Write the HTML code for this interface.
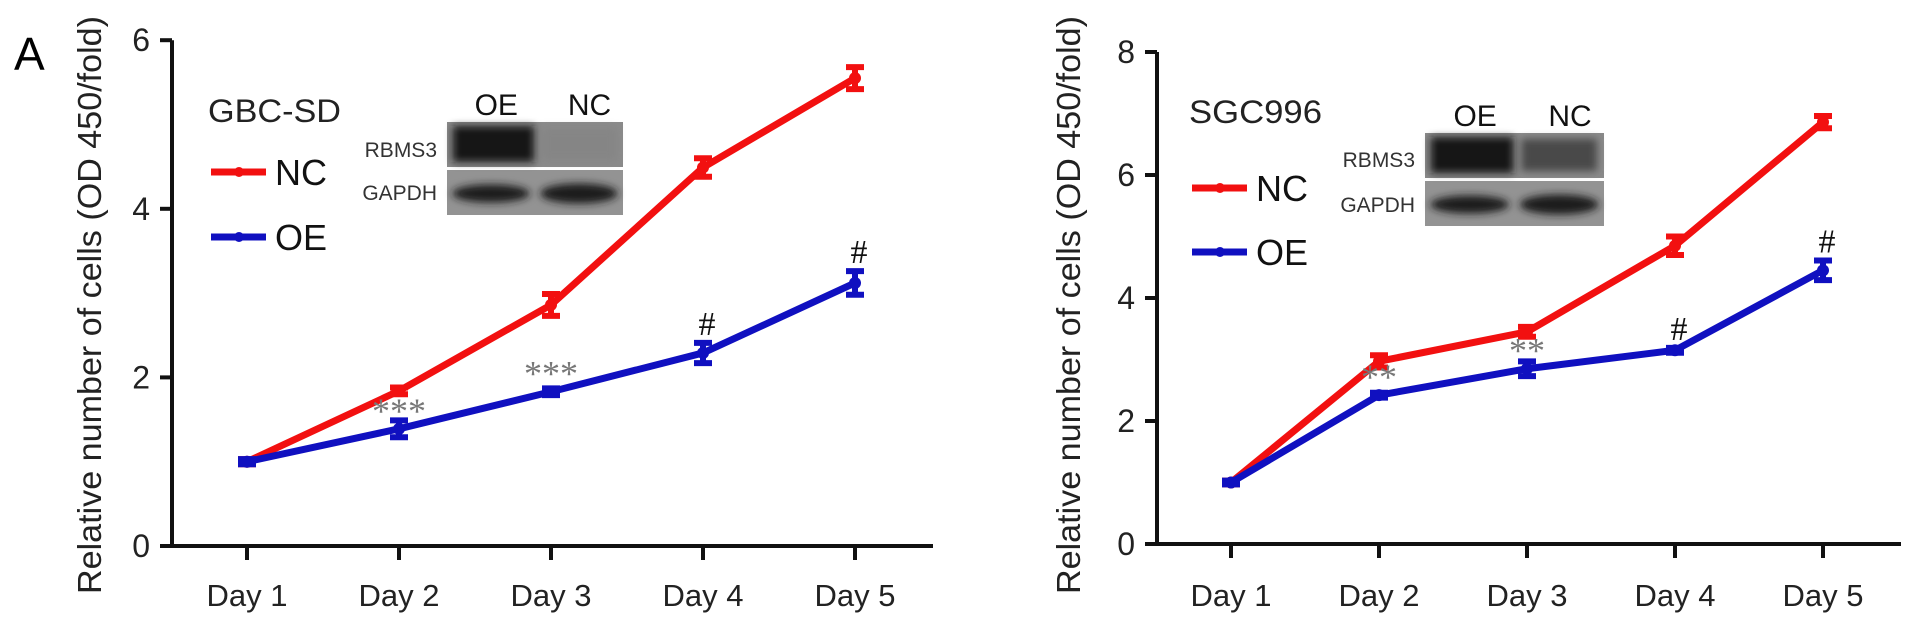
<!DOCTYPE html>
<html><head><meta charset="utf-8"><style>
html,body{margin:0;padding:0;background:#fff;width:1913px;height:626px;overflow:hidden}
svg{display:block;font-family:"Liberation Sans",Arial,sans-serif}
</style></head><body>
<svg id="fig" width="1913" height="626" viewBox="0 0 1913 626">
<defs><filter id="bl" x="-20%" y="-50%" width="140%" height="200%"><feGaussianBlur stdDeviation="4"/></filter></defs>
<text x="14" y="70" font-size="46">A</text>
</svg>
<script>
const days = ["Day 1","Day 2","Day 3","Day 4","Day 5"];
const leftNC = [1, 1.84, 2.86, 4.49, 5.55];
const leftNCerr = [0.03, 0.04, 0.13, 0.11, 0.13];
const leftOE = [1, 1.39, 1.83, 2.29, 3.12];
const leftOEerr = [0.03, 0.1, 0.04, 0.12, 0.14];
const leftTicks = [0, 2, 4, 6];
const leftMarks = ["", "***", "***", "#", "#"];
const rightNC = [1, 2.97, 3.45, 4.85, 6.86];
const rightNCerr = [0.03, 0.1, 0.08, 0.15, 0.1];
const rightOE = [1, 2.42, 2.85, 3.15, 4.45];
const rightOEerr = [0.03, 0.04, 0.12, 0.04, 0.16];
const rightTicks = [0, 2, 4, 6, 8];
const rightMarks = ["", "**", "**", "#", "#"];

const NS = "http://www.w3.org/2000/svg";
const svg = document.getElementById('fig');
function mk(tag, attrs, parent, txt){
  const e = document.createElementNS(NS, tag);
  for (const k in attrs) e.setAttribute(k, attrs[k]);
  if (txt !== undefined) e.textContent = txt;
  (parent || svg).appendChild(e);
  return e;
}

function panel(cfg){
  const g = mk('g', {});
  
  
  const xs = i => cfg.x0 + i * cfg.dx;
  const ys = v => cfg.y0 - v * cfg.py;
  const ya = mk('line', {x1: cfg.ax, y1: ys(cfg.ymax), x2: cfg.ax, y2: cfg.y0 + 2, stroke: '#111', 'stroke-width': 4}, g);
  
  
  const xa = mk('line', {x1: cfg.ax - 12, y1: cfg.y0, x2: cfg.xend, y2: cfg.y0, stroke: '#111', 'stroke-width': 4}, g);
  
  
  cfg.ticks.forEach(t => {
    const tl = mk('line', {x1: cfg.ax - 12, y1: ys(t), x2: cfg.ax, y2: ys(t), stroke: '#111', 'stroke-width': 4}, g);
    
    
    const tx = mk('text', {x: cfg.ax - 22, y: ys(t) + 11, 'font-size': 32, 'text-anchor': 'end', fill: '#222'}, g, String(t));
    
    
  });
  days.forEach((d, i) => {
    const tl = mk('line', {x1: xs(i), y1: cfg.y0, x2: xs(i), y2: cfg.y0 + 14, stroke: '#111', 'stroke-width': 4}, g);
    
    
    const tx = mk('text', {x: xs(i), y: 606, 'font-size': 31, 'text-anchor': 'middle', fill: '#222'}, g, d);
    
    
  });
  const yt = mk('text', {x: 0, y: 0, 'font-size': 33, 'text-anchor': 'middle', fill: '#222', transform: `translate(${cfg.ytx},305) rotate(-90)`, textLength: 578, lengthAdjust: 'spacingAndGlyphs'}, g, 'Relative number of cells (OD 450/fold)');
  
  
  [[cfg.nc, cfg.ncErr, '#f21010', 'nc-series'], [cfg.oe, cfg.oeErr, '#1010c0', 'oe-series']].forEach(s => {
    const pts = s[0].map((v, i) => xs(i) + ',' + ys(v)).join(' ');
    const pl = mk('polyline', {points: pts, fill: 'none', stroke: s[2], 'stroke-width': 7, 'stroke-linejoin': 'round'}, g);
    
    
    s[0].forEach((v, i) => {
      const e = s[1][i];
      const eb = mk('path', {d: `M${xs(i)},${ys(v + e)}V${ys(v - e)}M${xs(i) - 9},${ys(v + e)}H${xs(i) + 9}M${xs(i) - 9},${ys(v - e)}H${xs(i) + 9}`, stroke: s[2], 'stroke-width': 6, fill: 'none'}, g);
      
      
      const pt = mk('circle', {cx: xs(i), cy: ys(v), r: 6, fill: s[2]}, g);
      
      
    });
  });
  cfg.marks.forEach((m, i) => {
    if (!m) return;
    const isHash = m === '#';
    const y = isHash ? ys(cfg.oe[i] + cfg.oeErr[i]) - 8 : ys(cfg.oe[i]) - 6;
    const t = mk('text', {x: xs(i) + (isHash ? 4 : 0), y: y, 'font-size': isHash ? 34 : 36, 'text-anchor': 'middle', fill: isHash ? '#111' : '#777', 'font-family': '"Liberation Serif",serif'}, g, m);
    
    
  });
  const lt = mk('text', {x: cfg.lx - 3, y: cfg.ly, 'font-size': 32, fill: '#222', textLength: 133, lengthAdjust: 'spacingAndGlyphs'}, g, cfg.title);
  
  
  [['NC', '#f21010', cfg.l1], ['OE', '#1010c0', cfg.l2]].forEach(l => {
    const ln = mk('line', {x1: cfg.lx, y1: l[2], x2: cfg.lx + 55, y2: l[2], stroke: l[1], 'stroke-width': 7}, g);
    
    
    mk('circle', {cx: cfg.lx + 28, cy: l[2], r: 5, fill: l[1]}, g);
    const tx = mk('text', {x: cfg.lx + 64, y: l[2] + 13, 'font-size': 36, fill: '#111'}, g, l[0]);
    
    
  });
  const b = cfg.blot;
  const bg = mk('g', {}, g);
  
  
  mk('rect', {x: b.x, y: b.y, width: b.w, height: b.d - b.y - 1, fill: '#8a8a8a'}, bg);
  mk('rect', {x: b.x, y: b.d + 2, width: b.w, height: b.y2 - b.d - 2, fill: '#939393'}, bg);
  mk('rect', {x: b.x + 6, y: b.y + 4, width: b.w * 0.46, height: b.d - b.y - 10, fill: b.oeDark, filter: 'url(#bl)'}, bg);
  mk('rect', {x: b.x + b.w * 0.54, y: b.y + 6, width: b.w * 0.42, height: b.d - b.y - 14, fill: b.ncDark, filter: 'url(#bl)'}, bg);
  const gy = (b.d + b.y2) / 2 + 2;
  mk('ellipse', {cx: b.x + b.w * 0.25, cy: gy, rx: b.w * 0.22, ry: 9, fill: '#1a1a1a', filter: 'url(#bl)'}, bg);
  mk('ellipse', {cx: b.x + b.w * 0.75, cy: gy, rx: b.w * 0.22, ry: 10, fill: '#1a1a1a', filter: 'url(#bl)'}, bg);
  const t1 = mk('text', {x: b.x + b.w * 0.28, y: b.y - 7, 'font-size': 30, 'text-anchor': 'middle', fill: '#111'}, bg, 'OE');
  
  
  const t2 = mk('text', {x: b.x + b.w * 0.81, y: b.y - 7, 'font-size': 30, 'text-anchor': 'middle', fill: '#111'}, bg, 'NC');
  
  
  const t3 = mk('text', {x: b.x - 10, y: b.r1, 'font-size': 21, 'text-anchor': 'end', fill: '#333'}, bg, 'RBMS3');
  
  
  const t4 = mk('text', {x: b.x - 10, y: b.r2, 'font-size': 21, 'text-anchor': 'end', fill: '#333'}, bg, 'GAPDH');
  
  
}

panel({name: 'gbc-sd-chart', ax: 172, x0: 247, dx: 152, y0: 546, py: 84.3, ymax: 6, xend: 933, ticks: leftTicks,
  nc: leftNC, ncErr: leftNCerr, oe: leftOE, oeErr: leftOEerr, marks: leftMarks, ytx: 101,
  title: 'GBC-SD', lx: 211, ly: 122, l1: 172, l2: 237,
  blot: {x: 447, y: 122, w: 176, d: 168, y2: 215, r1: 157, r2: 200, oeDark: '#151515', ncDark: '#858585'}});
panel({name: 'sgc996-chart', ax: 1157, x0: 1231, dx: 148, y0: 544, py: 61.5, ymax: 8, xend: 1901, ticks: rightTicks,
  nc: rightNC, ncErr: rightNCerr, oe: rightOE, oeErr: rightOEerr, marks: rightMarks, ytx: 1080,
  title: 'SGC996', lx: 1192, ly: 123, l1: 188, l2: 252,
  blot: {x: 1425, y: 133, w: 179, d: 179, y2: 226, r1: 167, r2: 212, oeDark: '#151515', ncDark: '#4a4a4a'}});
</script>
</body></html>
